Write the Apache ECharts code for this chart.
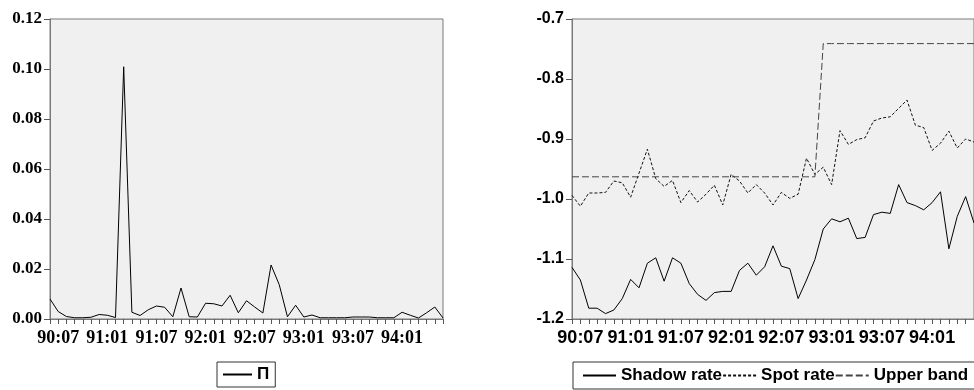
<!DOCTYPE html>
<html>
<head>
<meta charset="utf-8">
<script src="https://cdn.jsdelivr.net/npm/echarts@6/dist/echarts.min.js"></script>
<style>
  html, body { margin: 0; padding: 0; background: #fff; overflow: hidden; }
  #chart { width: 974px; height: 390px; }
</style>
</head>
<body>
<div id="chart"></div>
<script>
// months 1990:06 .. 1994:06
const months = [
  '90:06', '90:07', '90:08', '90:09', '90:10', '90:11', '90:12',
  '91:01', '91:02', '91:03', '91:04', '91:05', '91:06',
  '91:07', '91:08', '91:09', '91:10', '91:11', '91:12',
  '92:01', '92:02', '92:03', '92:04', '92:05', '92:06',
  '92:07', '92:08', '92:09', '92:10', '92:11', '92:12',
  '93:01', '93:02', '93:03', '93:04', '93:05', '93:06',
  '93:07', '93:08', '93:09', '93:10', '93:11', '93:12',
  '94:01', '94:02', '94:03', '94:04', '94:05', '94:06'
]
const tickLabels = ['90:07', '91:01', '91:07', '92:01', '92:07', '93:01', '93:07', '94:01']

const piValues = [
  0.0080, 0.0030, 0.0010, 0.0005, 0.0005, 0.0007, 0.0018, 0.0015, 0.0006, 0.1009,
  0.0027, 0.0014, 0.0037, 0.0052, 0.0047, 0.0009, 0.0124, 0.0009, 0.0008, 0.0063,
  0.0061, 0.0052, 0.0095, 0.0025, 0.0073, 0.0048, 0.0024, 0.0216, 0.0137, 0.0009,
  0.0055, 0.0008, 0.0016, 0.0005, 0.0005, 0.0005, 0.0005, 0.0008, 0.0008, 0.0008,
  0.0005, 0.0005, 0.0005, 0.0027, 0.0015, 0.0004, 0.0025, 0.0048, 0.0004
]

const shadowRate = [
  -1.114, -1.135, -1.182, -1.182, -1.191, -1.185, -1.166, -1.134, -1.148, -1.107,
  -1.098, -1.137, -1.098, -1.107, -1.141, -1.159, -1.169, -1.156, -1.154, -1.154,
  -1.119, -1.107, -1.127, -1.113, -1.078, -1.112, -1.116, -1.166, -1.135, -1.101,
  -1.050, -1.033, -1.038, -1.032, -1.066, -1.064, -1.026, -1.022, -1.024, -0.976,
  -1.006, -1.011, -1.018, -1.006, -0.988, -1.083, -1.029, -0.996, -1.040
]

const spotRate = [
  -0.994, -1.012, -0.990, -0.990, -0.989, -0.970, -0.973, -0.997, -0.957, -0.917,
  -0.966, -0.979, -0.969, -1.006, -0.986, -1.005, -0.992, -0.977, -1.010, -0.959,
  -0.970, -0.990, -0.976, -0.990, -1.010, -0.989, -0.999, -0.992, -0.932, -0.959,
  -0.947, -0.976, -0.886, -0.909, -0.901, -0.898, -0.870, -0.865, -0.863, -0.849,
  -0.835, -0.877, -0.881, -0.919, -0.907, -0.887, -0.915, -0.900, -0.905
]

const upperBand = [
  -0.963, -0.963, -0.963, -0.963, -0.963, -0.963, -0.963, -0.963, -0.963, -0.963,
  -0.963, -0.963, -0.963, -0.963, -0.963, -0.963, -0.963, -0.963, -0.963, -0.963,
  -0.963, -0.963, -0.963, -0.963, -0.963, -0.963, -0.963, -0.963, -0.963, -0.963,
  -0.741, -0.741, -0.741, -0.741, -0.741, -0.741, -0.741, -0.741, -0.741, -0.741,
  -0.741, -0.741, -0.741, -0.741, -0.741, -0.741, -0.741, -0.741, -0.741
]

const serif = 'Liberation Serif, Times New Roman, serif'
const sans = 'Liberation Sans, Arial, sans-serif'
const axisGray = '#7a7a7a'

function xAxisFor(gridIndex, font, size) {
  return {
    type: 'category',
    gridIndex,
    data: months,
    boundaryGap: false,
    axisLine: { show: true, lineStyle: { color: axisGray, width: 1 } },
    axisTick: { show: true, interval: 0, length: 5, lineStyle: { color: '#555' } },
    axisLabel: {
      interval: (i, v) => tickLabels.includes(v),
      margin: 10,
      color: '#000',
      fontFamily: font,
      fontWeight: 'bold',
      fontSize: size,
      hideOverlap: false
    },
    splitLine: { show: false }
  }
}

function yAxisFor(gridIndex, min, max, interval, digits, font, size) {
  return {
    type: 'value',
    gridIndex,
    min, max, interval,
    axisLine: { show: true, lineStyle: { color: axisGray, width: 1 } },
    axisTick: { show: true, length: 6, lineStyle: { color: '#555' } },
    axisLabel: {
      formatter: v => v.toFixed(digits),
      margin: 8,
      color: '#000',
      fontFamily: font,
      fontWeight: 'bold',
      fontSize: size
    },
    splitLine: { show: false }
  }
}

function lineSeries(name, data, axisIndex, dash, color) {
  return {
    name,
    type: 'line',
    xAxisIndex: axisIndex,
    yAxisIndex: axisIndex,
    data,
    symbol: 'none',
    color,
    lineStyle: { color, width: 1, type: dash },
    animation: false
  }
}

const legendBase = {
  orient: 'horizontal',
  borderColor: '#333',
  borderWidth: 1,
  itemHeight: 10,
  icon: 'inherit',
  itemStyle: { color: 'rgba(0,0,0,0)', borderWidth: 0, borderColor: 'rgba(0,0,0,0)' },
  textStyle: { color: '#000', fontFamily: sans, fontWeight: 'bold', fontSize: 17 },
  selectedMode: false
}

const chart = echarts.init(document.getElementById('chart'), null, { renderer: 'canvas' })
chart.setOption({
  backgroundColor: '#fff',
  animation: false,
  grid: [
    { left: 50, top: 19, width: 393, height: 300, show: true, backgroundColor: '#f0f0f0',
      borderColor: axisGray, borderWidth: 1, containLabel: false, outerBoundsMode: 'none' },
    { left: 572, top: 19, width: 402, height: 300, show: true, backgroundColor: '#f0f0f0',
      borderColor: axisGray, borderWidth: 1, containLabel: false, outerBoundsMode: 'none' }
  ],
  xAxis: [xAxisFor(0, serif, 18), xAxisFor(1, sans, 18)],
  yAxis: [
    yAxisFor(0, 0, 0.12, 0.02, 2, serif, 17),
    yAxisFor(1, -1.2, -0.7, 0.1, 1, sans, 16)
  ],
  legend: [
    Object.assign({}, legendBase, {
      data: ['Π'], left: 217, top: 362, itemWidth: 29, itemGap: 4, padding: [4, 6, 4, 5]
    }),
    Object.assign({}, legendBase, {
      data: ['Shadow rate', 'Spot rate', 'Upper band'],
      left: 573, top: 362, width: 440, itemWidth: 33, itemGap: 0, padding: [5, 10, 5, 9]
    })
  ],
  series: [
    lineSeries('Π', piValues, 0, 'solid', '#000'),
    lineSeries('Shadow rate', shadowRate, 1, 'solid', '#000'),
    lineSeries('Spot rate', spotRate, 1, [3, 2], '#111'),
    lineSeries('Upper band', upperBand, 1, [7, 3], '#444')
  ]
})
</script>
</body>
</html>
